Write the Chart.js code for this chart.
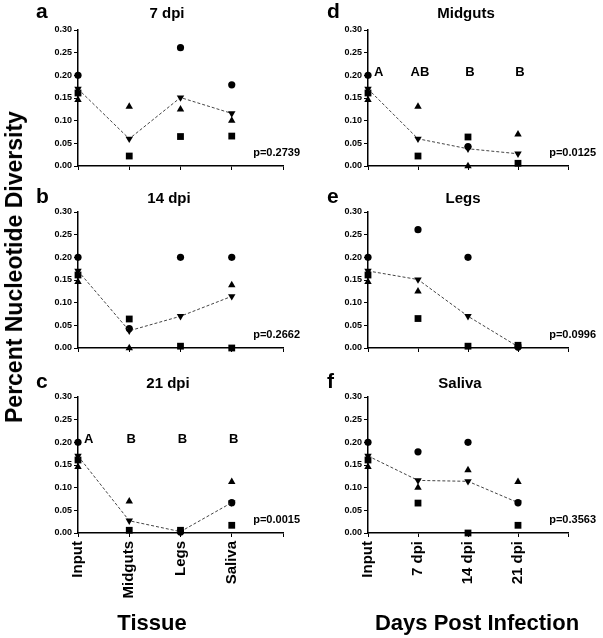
<!DOCTYPE html>
<html>
<head>
<meta charset="utf-8">
<script src="https://cdn.jsdelivr.net/npm/chart.js@4.4.0/dist/chart.umd.min.js"></script>
<style>
  body { margin: 0; background: #fff; }
  #wrap { position: relative; width: 603px; height: 638px; overflow: hidden;
          font-family: "Liberation Sans", Arial, sans-serif; font-weight: bold; color: #000; }
  #wrap canvas { position: absolute; left: 0; top: 0; }
  .big { position: absolute; white-space: nowrap; font-size: 22px; line-height: 22px; }
</style>
</head>
<body>
<div id="wrap">
  <canvas id="pa" width="603" height="638"></canvas>
  <canvas id="pb" width="603" height="638"></canvas>
  <canvas id="pc" width="603" height="638"></canvas>
  <canvas id="pd" width="603" height="638"></canvas>
  <canvas id="pe" width="603" height="638"></canvas>
  <canvas id="pf" width="603" height="638"></canvas>
  <div class="big" style="left:14px;top:267px;font-size:23px;transform:translate(-50%,-50%) rotate(-90deg);">Percent Nucleotide Diversity</div>
  <div class="big" style="left:152px;top:612px;transform:translateX(-50%);">Tissue</div>
  <div class="big" style="left:477px;top:612px;transform:translateX(-50%);">Days Post Infection</div>
</div>
<script>
const tissues = ['Input', 'Midguts', 'Legs', 'Saliva'];
const timepoints = ['Input', '7 dpi', '14 dpi', '21 dpi'];

// values per sample, ordered Input, Midguts, Legs, Saliva
const circle7 = [0.200, null, 0.261, 0.179];
const square7 = [0.161, 0.022, 0.065, 0.066];
const triangle7 = [0.146, 0.131, 0.125, 0.100];
const mean7 = [0.170, 0.060, 0.151, 0.116];

const circle14 = [0.200, 0.043, 0.200, 0.200];
const square14 = [0.161, 0.064, 0.004, 0.000];
const triangle14 = [0.146, 0.000, null, 0.139];
const mean14 = [0.170, 0.038, 0.070, 0.114];

const circle21 = [0.200, null, 0.002, 0.067];
const square21 = [0.161, 0.006, 0.006, 0.017];
const triangle21 = [0.146, 0.070, null, 0.113];
const mean21 = [0.170, 0.027, 0.003, 0.067];

const pValues = ['p=0.2739', 'p=0.2662', 'p=0.0015', 'p=0.0125', 'p=0.0996', 'p=0.3563'];
const sigTissue21 = ['A', 'B', 'B', 'B'];
const sigMidguts = ['A', 'AB', 'B', 'B'];

const FONT = '"Liberation Sans", Arial, sans-serif';
Chart.defaults.font.family = FONT;

// one tissue followed across time (Input, 7, 14, 21 dpi)
function acrossTime(i) {
  return [
    [circle7[0], circle7[i], circle14[i], circle21[i]],
    [square7[0], square7[i], square14[i], square21[i]],
    [triangle7[0], triangle7[i], triangle14[i], triangle21[i]],
    [mean7[0], mean7[i], mean14[i], mean21[i]]
  ];
}

const cols = [
  { axL: 78, axR: 283, pRight: 300, letterX: 36 },
  { axL: 368, axR: 568, pRight: 596, letterX: 327 }
];
const rows = [
  { top: 30, bottom: 166, textY: 18 },
  { top: 212, bottom: 348, textY: 203 },
  { top: 397, bottom: 533, textY: 388 }
];

const panels = [
  { id: 'pa', letter: 'a', title: '7 dpi', titleX: 167, col: 0, row: 0, cats: tissues, series: [circle7, square7, triangle7, mean7], p: pValues[0] },
  { id: 'pb', letter: 'b', title: '14 dpi', titleX: 169, col: 0, row: 1, cats: tissues, series: [circle14, square14, triangle14, mean14], p: pValues[1] },
  { id: 'pc', letter: 'c', title: '21 dpi', titleX: 168, col: 0, row: 2, cats: tissues, series: [circle21, square21, triangle21, mean21], p: pValues[2], sig: sigTissue21 },
  { id: 'pd', letter: 'd', title: 'Midguts', titleX: 466, col: 1, row: 0, cats: timepoints, series: acrossTime(1), p: pValues[3], sig: sigMidguts },
  { id: 'pe', letter: 'e', title: 'Legs', titleX: 463, col: 1, row: 1, cats: timepoints, series: acrossTime(2), p: pValues[4] },
  { id: 'pf', letter: 'f', title: 'Saliva', titleX: 460, col: 1, row: 2, cats: timepoints, series: acrossTime(3), p: pValues[5] }
];

const panelText = {
  id: 'panelText',
  afterDraw(chart, args, o) {
    const ctx = chart.ctx;
    const xs = chart.scales.x, ys = chart.scales.y;
    ctx.save();
    ctx.fillStyle = '#000';
    ctx.textBaseline = 'alphabetic';

    ctx.font = 'bold 21px ' + FONT;
    ctx.textAlign = 'left';
    ctx.fillText(o.letter, o.letterX, o.textY);

    ctx.font = 'bold 15px ' + FONT;
    ctx.textAlign = 'center';
    ctx.fillText(o.title, o.titleX, o.textY);

    ctx.font = 'bold 11px ' + FONT;
    ctx.textAlign = 'right';
    ctx.fillText(o.p, o.pRight, ys.bottom - 10);

    if (o.sig) {
      ctx.font = 'bold 13px ' + FONT;
      const y = ys.getPixelForValue(0.199);
      o.sig.forEach((s, i) => {
        if (i === 0) {
          ctx.textAlign = 'left';
          ctx.fillText(s, xs.getPixelForValue(0) + 6, y);
        } else {
          ctx.textAlign = 'center';
          ctx.fillText(s, xs.getPixelForValue(i) + 2, y);
        }
      });
    }
    ctx.restore();
  }
};

function pts(arr) {
  return arr.map((v, i) => ({ x: i, y: v })).filter(p => p.y !== null);
}

function makeChart(panel) {
  const col = cols[panel.col], row = rows[panel.row];
  const yAxisW = 48;
  const xAxisH = panel.row === 2 ? 70 : 20;
  const [circ, sq, tri, mean] = panel.series;
  const marker = { showLine: false, clip: false, backgroundColor: '#000', borderColor: '#000', borderWidth: 0 };

  new Chart(document.getElementById(panel.id), {
    type: 'scatter',
    data: {
      datasets: [
        { data: pts(mean), showLine: true, clip: false, borderColor: '#444', borderWidth: 1, borderDash: [3, 2],
          pointStyle: 'triangle', rotation: 180, pointRadius: 4.3,
          pointBackgroundColor: '#000', pointBorderColor: '#000', pointBorderWidth: 0 },
        { ...marker, data: pts(circ), pointStyle: 'circle', pointRadius: 3.6 },
        { ...marker, data: pts(sq), pointStyle: 'rect', pointRadius: 4.8 },
        { ...marker, data: pts(tri), pointStyle: 'triangle', pointRadius: 4.3 }
      ]
    },
    options: {
      responsive: false,
      animation: false,
      devicePixelRatio: 1,
      events: [],
      layout: {
        padding: { left: col.axL - yAxisW, right: 603 - col.axR, top: row.top, bottom: 638 - row.bottom - xAxisH }
      },
      plugins: {
        legend: { display: false },
        tooltip: { enabled: false },
        panelText: {
          letter: panel.letter, title: panel.title, titleX: panel.titleX, letterX: col.letterX,
          textY: row.textY, p: panel.p, pRight: col.pRight, sig: panel.sig
        }
      },
      scales: {
        x: {
          type: 'linear', min: 0, max: 4,
          afterFit: s => { s.height = xAxisH; },
          border: { display: true, color: '#000', width: 1.5 },
          grid: { drawOnChartArea: false, drawTicks: true, tickLength: 4, color: '#000', lineWidth: 1 },
          ticks: {
            display: panel.row === 2, stepSize: 1, autoSkip: false, minRotation: 90, maxRotation: 90,
            padding: 4, color: '#000', font: { size: 15, weight: 'bold' },
            callback: v => panel.cats[v] ?? ''
          }
        },
        y: {
          min: 0, max: 0.3,
          afterFit: s => { s.width = yAxisW; },
          border: { display: true, color: '#000', width: 1.5 },
          grid: { drawOnChartArea: false, drawTicks: true, tickLength: 4, color: '#000', lineWidth: 1 },
          ticks: { stepSize: 0.05, padding: 2, color: '#000', font: { size: 9, weight: 'bold' }, callback: v => v.toFixed(2) }
        }
      }
    },
    plugins: [panelText]
  });
}

panels.forEach(makeChart);
</script>
</body>
</html>
